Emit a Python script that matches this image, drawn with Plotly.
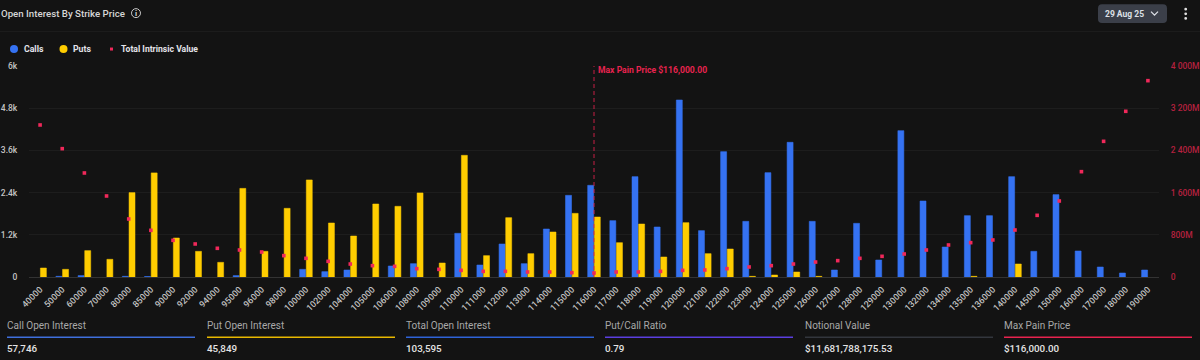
import plotly.graph_objects as go

strikes = ["40000","50000","60000","70000","80000","85000","90000","92000","94000","95000","96000","98000","100000","102000","104000","105000","106000","108000","109000","110000","111000","112000","113000","114000","115000","116000","117000","118000","119000","120000","121000","122000","123000","124000","125000","126000","127000","128000","129000","130000","132000","134000","135000","136000","140000","145000","150000","160000","170000","180000","190000"]
calls = [None,20,40,None,20,15,None,None,None,40,None,None,218,152,199,None,313,379,None,1242,341,938,379,1365,2322,2607,1602,2853,1422,5034,1318,3564,1583,2967,3830,1583,199,1526,483,4162,2161,853,1744,1744,2853,730,2342,740,284,114,199]
puts = [256,218,750,503,2400,2960,1110,730,417,2520,730,1953,2760,1536,1166,2076,2010,2390,398,3460,607,1687,664,1280,1810,1706,976,1507,569,1545,664,796,19,57,142,19,None,None,None,None,None,None,19,None,370,None,None,None,None,None,None]
intrinsic = [2882,2433,1972,1536,1100,885,695,626,544,512,474,405,354,297,246,215,202,158,145,126,107,107,95,95,82,76,95,95,107,126,133,158,190,215,246,284,310,354,392,436,512,607,651,702,891,1169,1441,1997,2572,3141,3722]
left_ticks = [0,1200,2400,3600,4800,6000]
left_labels = ["0","1.2k","2.4k","3.6k","4.8k","6k"]
right_ticks = [0,800,1600,2400,3200,4000]
right_labels = ["0","800M","1 600M","2 400M","3 200M","4 000M"]
stat_names = ["Call Open Interest","Put Open Interest","Total Open Interest","Put/Call Ratio","Notional Value","Max Pain Price"]
stat_values = ["57,746","45,849","103,595","0.79","$11,681,788,175.53","$116,000.00"]
stat_colors = ["#3F6FDC","#E8B800","#2F63D8","#5B3FE0","#33363D","#E8234F"]
stat_left = [7,207,406,605,805,1004]
max_pain = "116000"

BG = "#131313"; FONT = "Roboto"
W, H = 1200, 360
L, R, T, B = 29, 1159, 66, 277.5

fig = go.Figure()
fig.add_bar(x=strikes, y=calls, name="Calls", marker=dict(color="#3572F2", line=dict(color="rgba(53,114,242,0.55)", width=1)))
fig.add_bar(x=strikes, y=puts, name="Puts", marker=dict(color="#FFCD00", line=dict(color="rgba(255,205,0,0.5)", width=1)))
fig.add_scatter(x=strikes, y=intrinsic, name="Total Intrinsic Value", mode="markers", yaxis="y2",
                marker=dict(symbol="square", size=3.6, color="#F0285A"), cliponaxis=False)

def px(x): return (x - L) / (R - L)
def py(y): return (B - y) / (B - T)

def text(x, y, s, size=11, color="#D8D8D8", anchor="left", weight=400):
    fig.add_annotation(xref="paper", yref="paper", x=px(x), y=py(y), text=s, showarrow=False,
                       xanchor=anchor, yanchor="middle", borderpad=0, borderwidth=0,
                       font=dict(family=FONT, size=size, color=color, weight=weight))

def shape(kind, x0, y0, x1, y1, **kw):
    fig.add_shape(type=kind, xref="paper", yref="paper", x0=px(x0), y0=py(y0), x1=px(x1), y1=py(y1), **kw)

# header
text(1, 13, "Open Interest By Strike Price", 9.7, "#D6D6D6", weight=500)
shape("circle", 131.5, 8.5, 140.5, 17.5, line=dict(color="#C8C8C8", width=1))
text(136, 13, "i", 8, "#D0D0D0", "center", 700)
shape("line", 0, 31.5, 1200, 31.5, line=dict(color="#1E1E1E", width=1))
fig.add_shape(type="path", xref="paper", yref="paper", line=dict(width=0), fillcolor="#3B3F49",
              path=f"M {px(1102)} {py(4)} L {px(1163)} {py(4)} Q {px(1167)} {py(4)} {px(1167)} {py(8)} L {px(1167)} {py(19)} Q {px(1167)} {py(23)} {px(1163)} {py(23)} L {px(1102)} {py(23)} Q {px(1098)} {py(23)} {px(1098)} {py(19)} L {px(1098)} {py(8)} Q {px(1098)} {py(4)} {px(1102)} {py(4)} Z")
text(1104.5, 13.5, "29 Aug 25", 8.5, "#DDE0E6", weight=700)
fig.add_shape(type="path", xref="paper", yref="paper", line=dict(color="#DDE0E6", width=1.3),
              path=f"M {px(1151)} {py(11.5)} L {px(1154.5)} {py(15)} L {px(1158)} {py(11.5)}")
for yy in (9, 13.7, 18.3):
    shape("circle", 1184.3, yy-1.4, 1187.1, yy+1.4, fillcolor="#E0E0E0", line=dict(width=0))

# legend
shape("circle", 10, 45, 18, 53, fillcolor="#3572F2", line=dict(width=0))
text(23.5, 49, "Calls", 8.7, "#E4E4EA", weight=700)
shape("circle", 59.5, 45, 67.5, 53, fillcolor="#FFCD00", line=dict(width=0))
text(73, 49, "Puts", 8.7, "#E4E4EA", weight=700)
shape("rect", 110, 47.5, 113, 50.5, fillcolor="#F0285A", line=dict(width=0))
text(120.5, 49, "Total Intrinsic Value", 8.6, "#E4E4EA", weight=700)

# max pain marker (numeric position = category index)
mp = strikes.index(max_pain)
fig.add_shape(type="line", xref="x", yref="paper", x0=mp, x1=mp, y0=0, y1=1,
              line=dict(color="rgba(232,35,79,0.6)", width=1.4, dash="4px,3px"))
fig.add_annotation(xref="x", yref="paper", x=mp, y=py(70.5), text="Max Pain Price $116,000.00", showarrow=False,
                   xanchor="left", yanchor="middle", xshift=2, font=dict(family=FONT, size=8.6, color="#E8234F", weight=700))

# stat row
for name, val, col, x0 in zip(stat_names, stat_values, stat_colors, stat_left):
    text(x0, 326, name, 10, "#A8A8A8")
    shape("line", x0, 338, x0+188, 338, line=dict(color=col, width=1.5))
    text(x0, 349.5, val, 9.8, "#E4E4E4", weight=500)

fig.update_layout(
    width=W, height=H, autosize=False, showlegend=False,
    paper_bgcolor=BG, plot_bgcolor=BG,
    margin=dict(l=L, r=W-R, t=T, b=H-B, pad=0, autoexpand=False),
    barmode="group", bargap=0.4, bargroupgap=0.1,
    font=dict(family=FONT, size=9, color="#C8C8C8"),
    xaxis=dict(type="category", categoryorder="array", categoryarray=strikes, tickangle=-45,
               range=[-0.5, len(strikes)-0.5], automargin=False,
               showgrid=False, showline=True, linecolor="#333333", linewidth=1, zeroline=False,
               ticks="outside", ticklen=3, tickcolor="rgba(0,0,0,0)", tickmode="array", tickvals=strikes, ticktext=strikes,
               tickfont=dict(family=FONT, size=8.8, color="#C4C4C4", weight=500)),
    yaxis=dict(range=[0,6000], tickmode="array", tickvals=left_ticks, ticktext=left_labels, automargin=False,
               showgrid=True, gridcolor="#1D1D1D", gridwidth=1, zeroline=False,
               ticks="outside", ticklen=9, tickcolor="rgba(0,0,0,0)", tickfont=dict(family=FONT, size=8.5, color="#C4C4C4", weight=500)),
    yaxis2=dict(range=[0,4000], overlaying="y", side="right", tickmode="array", tickvals=right_ticks, ticktext=right_labels,
                automargin=False, showgrid=False, zeroline=False, ticks="outside", ticklen=9, tickcolor="rgba(0,0,0,0)",
                tickfont=dict(family=FONT, size=8.5, color="#B5213F", weight=500)),
)

fig.write_html("out.html", config=dict(displayModeBar=False),
               post_script="document.body.style.margin='0';document.body.style.background='#131313';document.body.style.overflow='hidden';")
